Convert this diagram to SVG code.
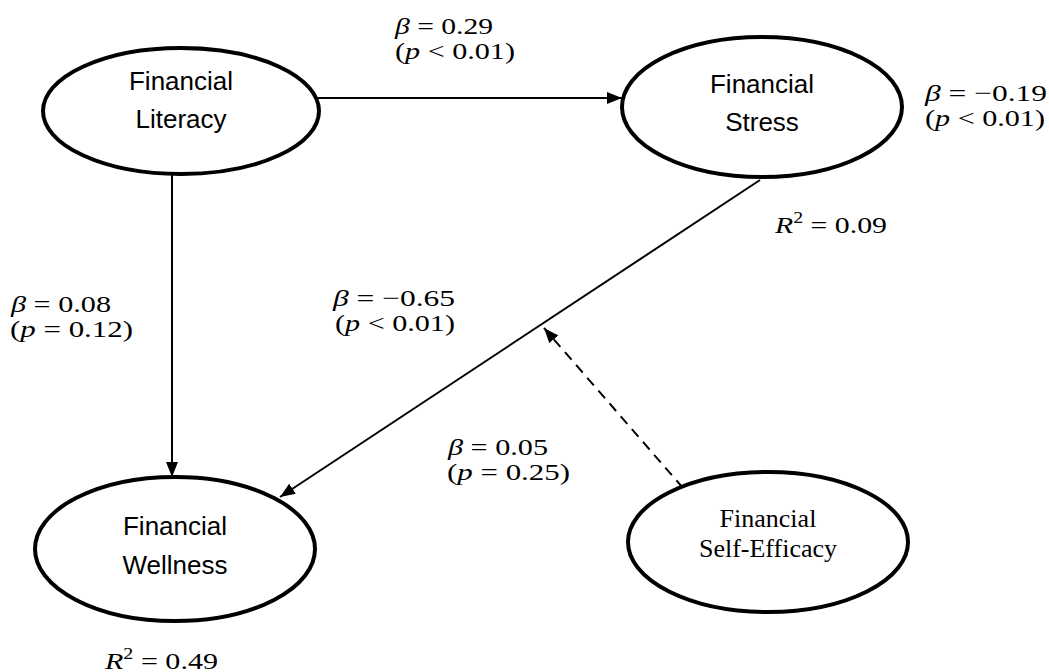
<svg xmlns="http://www.w3.org/2000/svg" width="1049" height="672" viewBox="0 0 1049 672">
  <style>
    .node { fill: #ffffff; stroke: #000000; stroke-width: 4; }
    .lbl { font-family: "Liberation Sans", Arial, sans-serif; font-size: 26px; fill: #000; text-anchor: middle; }
    .lbl-serif { font-family: "Liberation Serif", "Times New Roman", serif; font-size: 26px; fill: #000; text-anchor: middle; }
    .math { font-family: "Liberation Serif", "DejaVu Serif", serif; font-size: 24px; fill: #000; }
    .it { font-style: italic; }
    .edge { stroke: #000; stroke-width: 2; fill: none; }
    .dashed { stroke-dasharray: 10 7; }
  </style>
  <defs>
    <marker id="arrow" viewBox="0 0 15 12" refX="15" refY="6" markerWidth="15" markerHeight="12" markerUnits="userSpaceOnUse" orient="auto">
      <path d="M0,0 L15,6 L0,12 z" fill="#000"/>
    </marker>
  </defs>

  <!-- paths between the constructs -->
  <g id="connectors">
    <line class="edge" x1="318" y1="98" x2="622" y2="98" marker-end="url(#arrow)"/>
    <line class="edge" x1="172" y1="175" x2="172" y2="477" marker-end="url(#arrow)"/>
    <line class="edge" x1="760" y1="180" x2="280" y2="497" marker-end="url(#arrow)"/>
    <line class="edge dashed" x1="683" y1="488" x2="544" y2="328" marker-end="url(#arrow)"/>
  </g>

  <g id="financial-literacy">
    <ellipse class="node" cx="181" cy="111" rx="138" ry="63"/>
    <text class="lbl" x="181" y="90">Financial</text>
    <text class="lbl" x="181" y="128">Literacy</text>
  </g>

  <g id="financial-stress">
    <ellipse class="node" cx="762" cy="107" rx="140" ry="70"/>
    <text class="lbl" x="762" y="93">Financial</text>
    <text class="lbl" x="762" y="131">Stress</text>
  </g>

  <g id="financial-wellness">
    <ellipse class="node" cx="175" cy="549" rx="140" ry="72"/>
    <text class="lbl" x="175" y="535">Financial</text>
    <text class="lbl" x="175" y="574">Wellness</text>
  </g>

  <g id="financial-self-efficacy">
    <ellipse class="node" cx="768" cy="542" rx="140" ry="70"/>
    <text class="lbl-serif" x="768" y="527">Financial</text>
    <text class="lbl-serif" x="768" y="557">Self-Efficacy</text>
  </g>

  <!-- path coefficients and explained variance -->
  <g id="estimates">
    <text class="math">
      <tspan x="395" y="34" textLength="98" lengthAdjust="spacingAndGlyphs"><tspan class="it">β</tspan> = 0.29</tspan>
      <tspan x="395" y="59" textLength="120" lengthAdjust="spacingAndGlyphs">(<tspan class="it">p</tspan> &lt; 0.01)</tspan>
    </text>

    <text class="math">
      <tspan x="925" y="101" textLength="122" lengthAdjust="spacingAndGlyphs"><tspan class="it">β</tspan> = −0.19</tspan>
      <tspan x="925" y="126" textLength="120" lengthAdjust="spacingAndGlyphs">(<tspan class="it">p</tspan> &lt; 0.01)</tspan>
    </text>

    <text class="math" x="775" y="233" textLength="112" lengthAdjust="spacingAndGlyphs"><tspan class="it">R</tspan><tspan font-size="16" dy="-10">2</tspan><tspan dy="10"> = 0.09</tspan></text>

    <text class="math">
      <tspan x="11" y="312" textLength="100" lengthAdjust="spacingAndGlyphs"><tspan class="it">β</tspan> = 0.08</tspan>
      <tspan x="10" y="337" textLength="123" lengthAdjust="spacingAndGlyphs">(<tspan class="it">p</tspan> = 0.12)</tspan>
    </text>

    <text class="math">
      <tspan x="333" y="306" textLength="122" lengthAdjust="spacingAndGlyphs"><tspan class="it">β</tspan> = −0.65</tspan>
      <tspan x="335" y="331" textLength="120" lengthAdjust="spacingAndGlyphs">(<tspan class="it">p</tspan> &lt; 0.01)</tspan>
    </text>

    <text class="math">
      <tspan x="448" y="455" textLength="100" lengthAdjust="spacingAndGlyphs"><tspan class="it">β</tspan> = 0.05</tspan>
      <tspan x="447" y="480" textLength="123" lengthAdjust="spacingAndGlyphs">(<tspan class="it">p</tspan> = 0.25)</tspan>
    </text>

    <text class="math" x="105" y="669" textLength="113" lengthAdjust="spacingAndGlyphs"><tspan class="it">R</tspan><tspan font-size="16" dy="-10">2</tspan><tspan dy="10"> = 0.49</tspan></text>
  </g>
</svg>
